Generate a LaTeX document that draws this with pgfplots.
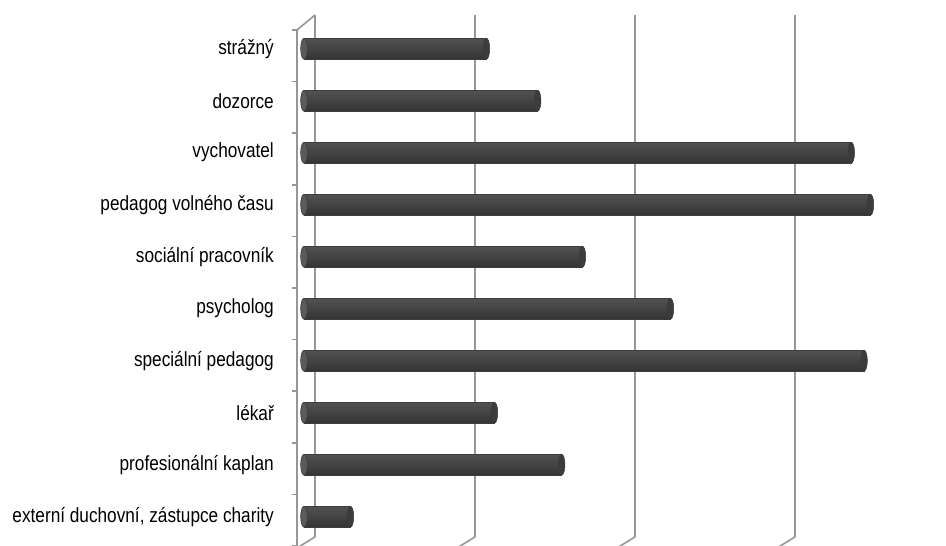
\documentclass[border=0pt]{standalone}
\usepackage{fontspec}
\setmainfont{Liberation Sans}[FakeStretch=0.84]
\usepackage{pgfplots}
\pgfplotsset{compat=1.18}
\usepackage{pgfplotstable}
\definecolor{gridgray}{RGB}{150,150,150}
\definecolor{bartop}{RGB}{82,82,82}
\definecolor{barmid}{RGB}{110,110,110}
\definecolor{barbot}{RGB}{52,52,52}
\definecolor{capgray}{RGB}{60,60,60}
\definecolor{leftcap}{RGB}{90,90,90}
\pgfplotstableread{
idx value
0 2.9
1 16.1
2 11.9
3 35.0
4 22.9
5 17.4
6 35.4
7 34.2
8 14.6
9 11.4
}\datatable
\newcommand\labelfont{\fontsize{20.5}{24}\selectfont}
\pgfplotsset{cyl/.style={xbar, bar width=21pt, draw=capgray, line width=0.5pt,
  shade, top color=bartop, middle color=barmid, bottom color=barbot}}
\begin{document}
\begin{tikzpicture}
\useasboundingbox (0pt,0pt) rectangle (946pt,546pt);
\clip (0pt,0pt) rectangle (946pt,546pt);
% back wall with gridlines
\begin{axis}[
  at={(315pt,9pt)}, anchor=south west,
  scale only axis, width=640pt, height=522pt,
  xmin=0, xmax=40, ymin=0, ymax=1,
  xtick={0,10,20,30,40}, xticklabels={}, ytick=\empty,
  xmajorgrids, major grid style={gridgray, line width=1.6pt},
  axis line style={draw=none}, major tick length=0pt,
]
\end{axis}
% floor/wall diagonals
\foreach \k in {0,1,2,3}{
  \draw[gridgray, line width=1.6pt] ({315pt+160pt*\k},9pt) -- ++(-18pt,-11pt);
}
\draw[gridgray, line width=1.6pt] (297pt,516pt) -- (315pt,531pt);
% front axis with category boundary ticks
\begin{axis}[
  at={(297pt,0pt)}, anchor=south west,
  scale only axis, width=640pt, height=516pt,
  xmin=0, xmax=40, ymin=0, ymax=10,
  axis x line=none, axis y line*=left,
  xtick=\empty, ytick={0,1,...,10}, yticklabels={},
  tick align=outside, major tick length=5pt,
  axis line style={gridgray, line width=1.6pt},
  tick style={gridgray, line width=1.6pt},
]
\end{axis}
% bars
\begin{axis}[
  at={(304pt,3.3pt)}, anchor=south west,
  scale only axis, width=640pt, height=520pt,
  xmin=0, xmax=40, ymin=-0.5, ymax=9.5,
  clip=false,
  axis line style={draw=none},
  xtick=\empty,
  ytick={0,...,9},
  yticklabels={{externí duchovní, zástupce charity}, profesionální kaplan, lékař, speciální pedagog, psycholog, sociální pracovník, pedagog volného času, vychovatel, dozorce, strážný},
  major tick length=0pt,
  yticklabel style={font=\labelfont, inner sep=0pt, anchor=east},
  yticklabel shift=30pt,
]
\addplot[only marks, mark=*, mark size=10.5pt,
  mark options={xscale=0.32, fill=leftcap, draw=capgray, line width=0.5pt}]
  table[x expr=0, y=idx] {\datatable};
\addplot[cyl] coordinates {(2.9,0)};
\addplot[cyl] coordinates {(16.1,1)};
\addplot[cyl] coordinates {(11.9,2)};
\addplot[cyl] coordinates {(35.0,3)};
\addplot[cyl] coordinates {(22.9,4)};
\addplot[cyl] coordinates {(17.4,5)};
\addplot[cyl] coordinates {(35.4,6)};
\addplot[cyl] coordinates {(34.2,7)};
\addplot[cyl] coordinates {(14.6,8)};
\addplot[cyl] coordinates {(11.4,9)};
\addplot[only marks, mark=*, mark size=10.5pt,
  mark options={xscale=0.32, fill=capgray, draw=capgray, line width=0.5pt}]
  table[x=value, y=idx] {\datatable};
\end{axis}
\end{tikzpicture}
\end{document}
